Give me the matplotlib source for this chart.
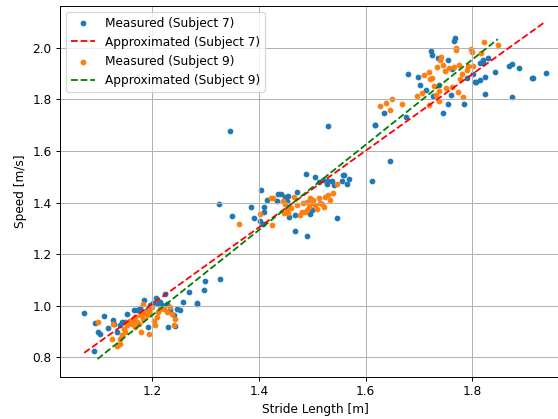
import matplotlib
matplotlib.use('Agg')
import matplotlib.pyplot as plt
import numpy as np

# stride length [m] / speed [m/s], subject 7
s7_stride = [1.072, 1.091, 1.110, 1.093, 1.097, 1.102, 1.116, 1.126, 1.127, 1.133,
             1.140, 1.143, 1.149, 1.152, 1.158, 1.165, 1.171, 1.177, 1.185, 1.189,
             1.196, 1.201, 1.207, 1.211, 1.215, 1.218, 1.224, 1.227, 1.233, 1.240,
             1.246, 1.252, 1.258, 1.268, 1.283, 1.284, 1.296, 1.299, 1.327, 1.191,
             1.230, 1.243,
             1.346, 1.530, 1.325, 1.350, 1.385, 1.391, 1.404, 1.410, 1.410, 1.401,
             1.408, 1.415, 1.436, 1.433, 1.449, 1.455, 1.453, 1.457, 1.468, 1.468,
             1.489, 1.490, 1.505, 1.496, 1.500, 1.512, 1.530, 1.537, 1.540, 1.546,
             1.557, 1.555, 1.566, 1.568, 1.559, 1.612, 1.645, 1.618, 1.635, 1.441,
             1.472, 1.520, 1.527,
             1.617, 1.676, 1.679, 1.699, 1.702, 1.713, 1.723, 1.726, 1.736, 1.738,
             1.746, 1.754, 1.755, 1.760, 1.762, 1.767, 1.785, 1.790, 1.802, 1.805,
             1.814, 1.814, 1.821, 1.824, 1.824, 1.829, 1.843, 1.869, 1.875, 1.875,
             1.888, 1.913, 1.938, 1.807, 1.915, 1.724, 1.766, 1.821]
s7_speed = [0.972, 0.824, 0.962, 0.933, 0.897, 0.889, 0.915, 0.946, 0.931, 0.898,
            0.924, 0.937, 0.937, 0.969, 0.943, 0.982, 0.985, 0.993, 1.024, 0.982,
            1.002, 1.011, 1.032, 1.008, 1.015, 1.002, 1.047, 1.008, 0.982, 0.963,
            0.989, 0.982, 1.013, 1.053, 1.011, 1.007, 1.060, 1.096, 1.103, 0.917,
            0.917, 0.920,
            1.679, 1.697, 1.393, 1.347, 1.384, 1.342, 1.448, 1.384, 1.365, 1.330,
            1.317, 1.410, 1.433, 1.407, 1.420, 1.427, 1.407, 1.345, 1.350, 1.290,
            1.510, 1.272, 1.501, 1.355, 1.370, 1.478, 1.485, 1.482, 1.470, 1.339,
            1.507, 1.482, 1.472, 1.491, 1.507, 1.484, 1.562, 1.700, 1.746, 1.432,
            1.440, 1.488, 1.473,
            1.701, 1.733, 1.897, 1.886, 1.856, 1.837, 1.988, 1.813, 1.962, 1.856,
            1.746, 1.781, 1.951, 1.816, 1.917, 2.037, 1.781, 1.883, 1.897, 1.869,
            1.876, 1.940, 1.940, 1.886, 1.820, 1.960, 1.905, 1.930, 1.936, 1.811,
            1.921, 1.883, 1.902, 1.868, 1.882, 1.972, 2.028, 1.951]

# subject 9
s9_stride = [1.097, 1.124, 1.133, 1.140, 1.143, 1.146, 1.149, 1.152, 1.155, 1.158,
             1.162, 1.165, 1.168, 1.171, 1.174, 1.177, 1.180, 1.183, 1.186, 1.189,
             1.193, 1.196, 1.199, 1.202, 1.205, 1.208, 1.211, 1.215, 1.221, 1.227,
             1.233, 1.236, 1.243, 1.241, 1.193, 1.126, 1.140, 1.168, 1.183, 1.178,
             1.362, 1.401, 1.422, 1.426, 1.424, 1.445, 1.449, 1.453, 1.455, 1.446,
             1.460, 1.465, 1.471, 1.480, 1.483, 1.490, 1.493, 1.496, 1.502, 1.505,
             1.508, 1.512, 1.515, 1.521, 1.524, 1.530, 1.534, 1.539, 1.546, 1.490,
             1.477, 1.486, 1.499, 1.518,
             1.627, 1.638, 1.650, 1.645, 1.668, 1.696, 1.705, 1.710, 1.718, 1.721,
             1.725, 1.729, 1.734, 1.738, 1.738, 1.741, 1.745, 1.749, 1.751, 1.757,
             1.762, 1.765, 1.770, 1.776, 1.773, 1.777, 1.782, 1.780, 1.790, 1.793,
             1.798, 1.802, 1.816, 1.822, 1.848, 1.718, 1.732, 1.769, 1.799, 1.740]
s9_speed = [0.937, 0.872, 0.846, 0.872, 0.885, 0.911, 0.898, 0.924, 0.937, 0.943,
            0.930, 0.950, 0.956, 0.937, 0.930, 0.963, 0.969, 0.950, 0.976, 0.963,
            0.982, 0.969, 0.995, 0.943, 0.924, 0.956, 0.976, 0.989, 0.989, 0.976,
            0.995, 0.969, 0.950, 0.924, 0.892, 0.931, 0.853, 0.917, 1.008, 0.900,
            1.316, 1.354, 1.417, 1.418, 1.312, 1.407, 1.394, 1.373, 1.358, 1.360,
            1.380, 1.420, 1.390, 1.365, 1.397, 1.404, 1.384, 1.416, 1.410, 1.390,
            1.377, 1.416, 1.397, 1.381, 1.420, 1.429, 1.410, 1.439, 1.472, 1.371,
            1.352, 1.362, 1.400, 1.395,
            1.775, 1.785, 1.800, 1.759, 1.781, 1.813, 1.824, 1.895, 1.905, 1.878,
            1.881, 1.850, 1.924, 1.831, 1.795, 1.965, 1.932, 1.909, 1.843, 1.920,
            1.847, 1.924, 2.001, 1.934, 1.827, 1.879, 1.811, 1.900, 1.914, 1.930,
            1.995, 1.928, 1.979, 2.021, 2.010, 1.777, 1.815, 1.990, 1.982, 1.951]

# fitted lines (slope, intercept)
fit7 = (1.483, -0.772)
fit9 = (1.650, -1.016)

dpi = 87.2
fig = plt.figure(figsize=(558 / dpi, 419 / dpi), dpi=dpi)
ax = fig.add_axes([0.1075, 0.1014, 0.914, 0.885])

x7 = np.array(s7_stride)
x9 = np.array(s9_stride)
l7 = np.array([x7.min(), x7.max()])
l9 = np.array([x9.min(), x9.max()])

ax.scatter(x7, s7_speed, s=14, color='tab:blue', label='Measured (Subject 7)')
ax.plot(l7, fit7[0] * l7 + fit7[1], 'r--', label='Approximated (Subject 7)')
ax.scatter(x9, s9_speed, s=14, color='tab:orange', label='Measured (Subject 9)')
ax.plot(l9, fit9[0] * l9 + fit9[1], 'g--', label='Approximated (Subject 9)')

ax.set_xlim(1.0265, 1.9835)
ax.set_ylim(0.726, 2.163)
ax.set_xticks([1.2, 1.4, 1.6, 1.8])
ax.set_xlabel('Stride Length [m]')
ax.set_ylabel('Speed [m/s]')
ax.grid(True)
ax.legend(loc='upper left')

fig.savefig('out.png', dpi=dpi)
